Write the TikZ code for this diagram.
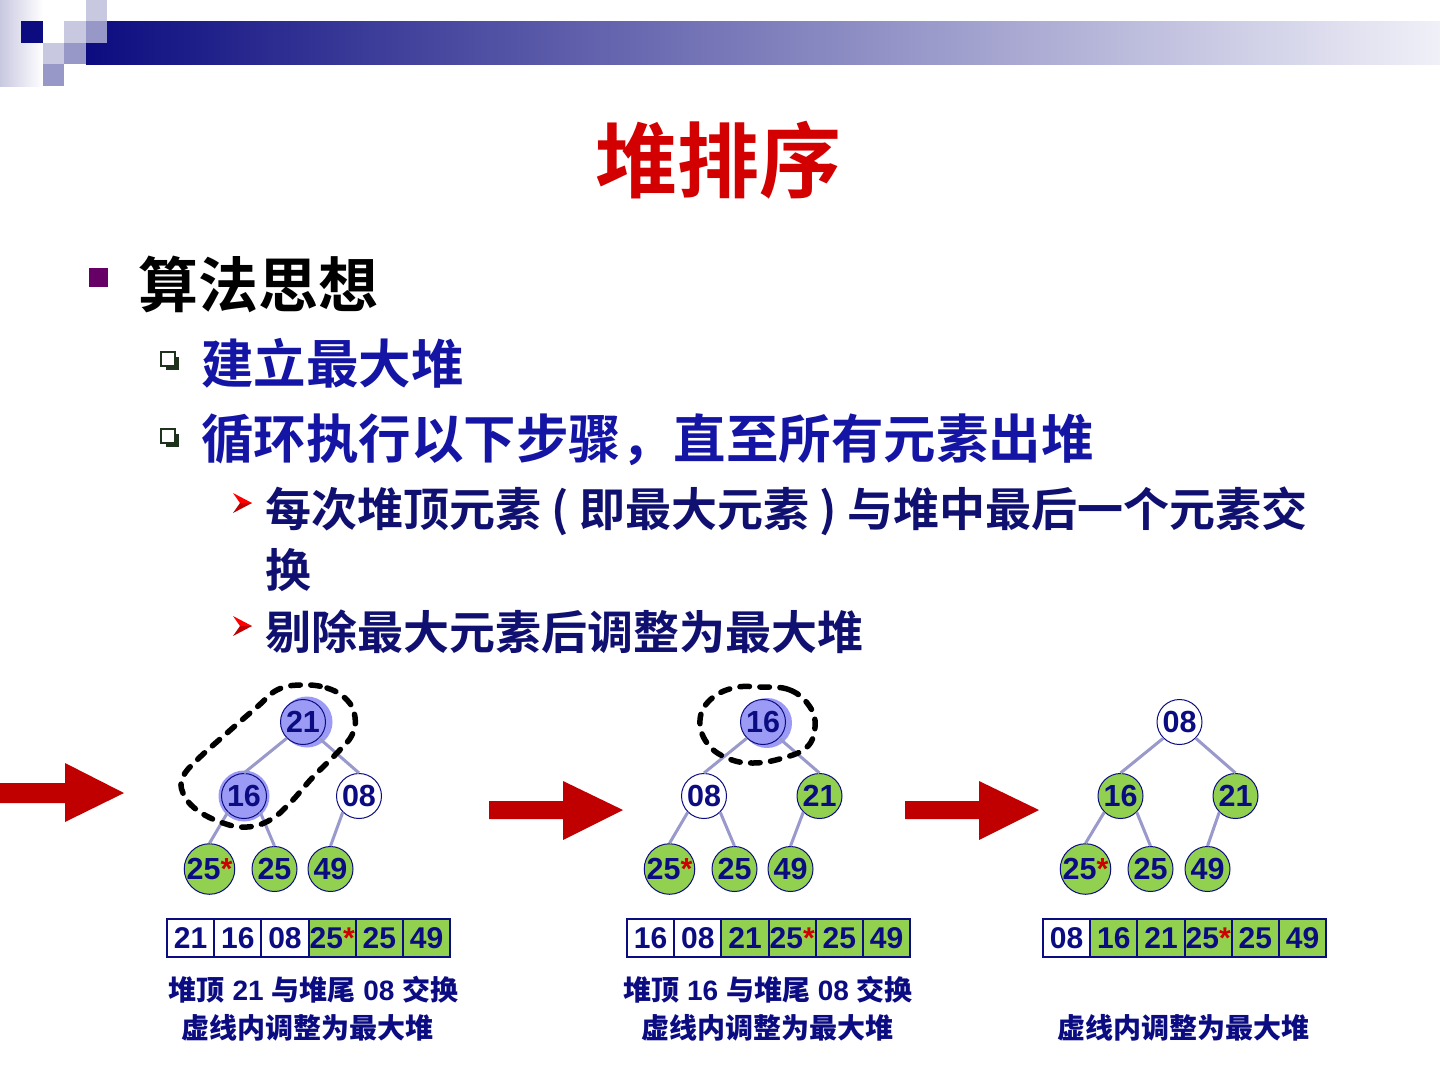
\documentclass[tikz,border=0pt]{standalone}
\usepackage{fontspec}
\setmainfont{Liberation Sans}
\newfontfamily\cjk{Noto Sans CJK SC Bold}
\definecolor{navy}{RGB}{12,12,130}
\definecolor{lvltwo}{RGB}{20,20,165}
\definecolor{lvlthree}{RGB}{16,16,112}
\definecolor{titlered}{RGB}{210,0,0}
\definecolor{arrowred}{RGB}{192,0,0}
\definecolor{hgreen}{RGB}{146,208,80}
\definecolor{hblue}{RGB}{155,155,245}
\definecolor{edgec}{RGB}{153,153,204}
\definecolor{bulletpurple}{RGB}{102,0,102}
\definecolor{starred}{RGB}{204,0,0}
\definecolor{hdark}{RGB}{12,12,128}
\definecolor{hlight}{RGB}{240,240,248}
\definecolor{sqlight}{RGB}{200,200,224}
\definecolor{sqmed}{RGB}{152,152,200}
\definecolor{boxdark}{RGB}{30,50,30}
\newcommand\tfstar{25{\color{starred}*}}
\begin{document}
\begin{tikzpicture}[x=1pt,y=-1pt,
  tnode/.style={circle, minimum size=45pt, inner sep=0pt, draw=navy, line width=1pt,
    font=\bfseries\fontsize{30.5}{30.5}\selectfont, text=navy},
  gnode/.style={tnode, fill=hgreen},
  wnode/.style={tnode, fill=white},
  bnode/.style={tnode, fill=hblue},
  treeline/.style={draw=edgec, line width=3pt},
  cellw/.style={rectangle, minimum width=47.2pt, minimum height=38pt, inner sep=0pt,
    draw=navy, line width=2pt, fill=white, font=\bfseries\fontsize{30}{30}\selectfont, text=navy},
  cellg/.style={cellw, fill=hgreen},
  caption/.style={inner sep=0pt, text=navy, font=\bfseries\fontsize{28}{28}\selectfont},
  dashloop/.style={draw=black, line width=5.5pt, dash pattern=on 9.5pt off 10.5pt, line cap=round},
  redarrow/.style={fill=arrowred},
  ]
\fill[white] (0,0) rectangle (1440,1080);
\useasboundingbox (0,0) rectangle (1440,1080);
% header
\shade[left color=sqlight, right color=white] (0,0) rectangle (43,86);
\shade[left color=hdark, right color=hlight] (86,21) rectangle (1440,64);
\fill[hdark] (21,21) rectangle (43,43);
\fill[sqlight] (86,0) rectangle (107,21);
\fill[sqlight] (64,21) rectangle (86,43);
\fill[sqmed] (86,21) rectangle (107,43);
\fill[sqlight] (43,43) rectangle (64,64);
\fill[sqmed] (64,43) rectangle (86,64);
\fill[sqmed] (43,64) rectangle (64,86);
% title
\node (title) at (718,160) [inner sep=0pt, text=titlered, font=\cjk\fontsize{82}{82}\selectfont] {堆排序};
% bullets
\fill[bulletpurple] (89,268) rectangle (108,287);
\node (l1) at (138,284) [anchor=west, inner sep=0pt, text=black, font=\cjk\fontsize{60}{60}\selectfont] {算法思想};
\fill[boxdark] (166,357) rectangle (179,370);
\filldraw[fill=white, draw=boxdark, line width=1.4pt] (161,352) rectangle (175,366);
\node (l2a) at (201,363) [anchor=west, inner sep=0pt, text=lvltwo, font=\cjk\fontsize{52.5}{52.5}\selectfont] {建立最大堆};
\fill[boxdark] (166,434) rectangle (179,447);
\filldraw[fill=white, draw=boxdark, line width=1.4pt] (161,429) rectangle (175,443);
\node (l2b) at (201,440) [anchor=west, inner sep=0pt, text=lvltwo, font=\cjk\fontsize{52.5}{52.5}\selectfont] {循环执行以下步骤，直至所有元素出堆};
% level 3 bullets
\fill[red] (233,493) -- (252,503) -- (240,503) -- cycle;
\fill[arrowred] (233,513) -- (252,503) -- (240,503) -- cycle;
\node (l3a) at (265,511) [anchor=west, inner sep=0pt, text=lvlthree, font=\cjk\fontsize{46}{46}\selectfont] {每次堆顶元素 ( 即最大元素 ) 与堆中最后一个元素交};
\node (l3b) at (265,570) [anchor=west, inner sep=0pt, text=lvlthree, font=\cjk\fontsize{46}{46}\selectfont] {换};
\fill[red] (233,616) -- (252,626) -- (240,626) -- cycle;
\fill[arrowred] (233,636) -- (252,626) -- (240,626) -- cycle;
\node (l3c) at (265,632) [anchor=west, inner sep=0pt, text=lvlthree, font=\cjk\fontsize{46}{46}\selectfont] {剔除最大元素后调整为最大堆};
% arrows
\fill[redarrow] (0,783) -- (65,783) -- (65,763) -- (124,793) -- (65,822) -- (65,803) -- (0,803) -- cycle;
\fill[redarrow] (489,801) -- (563,801) -- (563,781) -- (623,810) -- (563,840) -- (563,819) -- (489,819) -- cycle;
\fill[redarrow] (905,801) -- (979,801) -- (979,781) -- (1039,810) -- (979,840) -- (979,819) -- (905,819) -- cycle;
% ---------- tree 1
\fill[hblue] (307,722) circle (25.5pt);
\fill[hblue] (244,796) circle (25.5pt);
\node[bnode] (a1) at (303,722) {21};
\node[bnode] (b1) at (244,796) {16};
\node[wnode] (c1) at (359,796) {08};
\node[gnode] (d1) at (209.5,869) {\tfstar};
\node[gnode] (e1) at (274.5,869) {25};
\node[gnode] (f1) at (330.5,869) {49};
\draw[treeline] (a1.225) -- (b1.north);
\draw[treeline] (a1.315) -- (c1.north);
\draw[treeline] (b1.225) -- (d1.north);
\draw[treeline] (b1.315) -- (e1.north);
\draw[treeline] (c1.225) -- (f1.north);
\draw[dashloop] plot[smooth cycle, tension=0.7] coordinates {(300,685) (327,688) (347,700) (355,717) (352,735) (337,753) (313,777) (290,803) (270,820) (247,827) (223,823) (197,810) (183,793) (183,777) (197,760) (227,733) (257,707) (277,690)};
% ---------- tree 2
\fill[hblue] (767,723) circle (25pt);
\node[bnode] (a2) at (763,722) {16};
\node[wnode] (b2) at (704,796) {08};
\node[gnode] (c2) at (819.5,796) {21};
\node[gnode] (d2) at (669.5,869) {\tfstar};
\node[gnode] (e2) at (734.5,869) {25};
\node[gnode] (f2) at (790.5,869) {49};
\draw[treeline] (a2.225) -- (b2.north);
\draw[treeline] (a2.315) -- (c2.north);
\draw[treeline] (b2.225) -- (d2.north);
\draw[treeline] (b2.315) -- (e2.north);
\draw[treeline] (c2.225) -- (f2.north);
\draw[dashloop] plot[smooth cycle, tension=0.7] coordinates {(760,687) (790,690) (810,707) (815,727) (807,747) (783,758) (753,763) (727,758) (707,743) (700,720) (710,700) (733,688)};
% ---------- tree 3
\node[wnode] (a3) at (1179.5,722) {08};
\node[gnode] (b3) at (1120.5,796) {16};
\node[gnode] (c3) at (1235.5,796) {21};
\node[gnode] (d3) at (1085.5,869) {\tfstar};
\node[gnode] (e3) at (1150.5,869) {25};
\node[gnode] (f3) at (1207.5,869) {49};
\draw[treeline] (a3.225) -- (b3.north);
\draw[treeline] (a3.315) -- (c3.north);
\draw[treeline] (b3.225) -- (d3.north);
\draw[treeline] (b3.315) -- (e3.north);
\draw[treeline] (c3.225) -- (f3.north);
% ---------- arrays
\node[cellw] (p1) at (190.6,938) {21};
\node[cellw] (p2) at (237.8,938) {16};
\node[cellw] (p3) at (285.0,938) {08};
\node[cellg] (p4) at (332.2,938) {\tfstar};
\node[cellg] (p5) at (379.4,938) {25};
\node[cellg] (p6) at (426.6,938) {49};
\node[cellw] (q1) at (650.6,938) {16};
\node[cellw] (q2) at (697.8,938) {08};
\node[cellg] (q3) at (745.0,938) {21};
\node[cellg] (q4) at (792.2,938) {\tfstar};
\node[cellg] (q5) at (839.4,938) {25};
\node[cellg] (q6) at (886.6,938) {49};
\node[cellw] (r1) at (1066.6,938) {08};
\node[cellg] (r2) at (1113.8,938) {16};
\node[cellg] (r3) at (1161.0,938) {21};
\node[cellg] (r4) at (1208.2,938) {\tfstar};
\node[cellg] (r5) at (1255.4,938) {25};
\node[cellg] (r6) at (1302.6,938) {49};
% captions
\node[caption] (cap1a) at (313.5,990) {{\cjk 堆顶} 21 {\cjk 与堆尾} 08 {\cjk 交换}};
\node[caption] (cap1b) at (307,1028) {\cjk 虚线内调整为最大堆};
\node[caption] (cap2a) at (768,990) {{\cjk 堆顶} 16 {\cjk 与堆尾} 08 {\cjk 交换}};
\node[caption] (cap2b) at (767,1028) {\cjk 虚线内调整为最大堆};
\node[caption] (cap3b) at (1183,1028) {\cjk 虚线内调整为最大堆};
\end{tikzpicture}
\end{document}
